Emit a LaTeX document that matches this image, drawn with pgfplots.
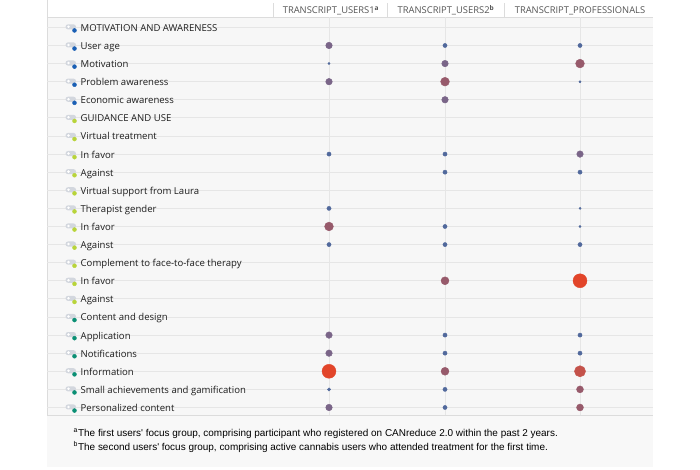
\documentclass[border=0pt]{standalone}
\usepackage{fontspec}
\setmainfont{Open Sans}
\newfontfamily\arialfont{Liberation Sans}
\usepackage{pgfplots}
\usepackage{pgfplotstable}
\pgfplotsset{compat=1.18}
\definecolor{panelbg}{HTML}{F7F7F7}
\definecolor{footbg}{HTML}{F8F8F8}
\definecolor{gridc}{HTML}{E6E6E6}
\definecolor{borderc}{HTML}{DCDCDC}
\definecolor{pillc}{HTML}{D3D7DE}
\definecolor{c1}{HTML}{51699C}
\definecolor{c2}{HTML}{7A6588}
\definecolor{c3}{HTML}{975A6B}
\definecolor{c4}{HTML}{C4524A}
\definecolor{c5}{HTML}{E2452A}
\definecolor{iblue}{HTML}{1A5FB4}
\definecolor{igreen}{HTML}{B8D43A}
\definecolor{iteal}{HTML}{0A8F74}
\definecolor{labc}{HTML}{1E1E1E}
\definecolor{headc}{HTML}{555555}

% column 1: TRANSCRIPT_USERS1 (x=329)
\pgfplotstableread{
x row cls
329 1 m
329 2 t
329 3 m
329 7 s
329 10 s
329 11 l
329 12 s
329 17 m
329 18 m
329 19 b
329 20 u
329 21 m
}\colA
% column 2: TRANSCRIPT_USERS2 (x=445)
\pgfplotstableread{
x row cls
445 1 s
445 2 m
445 3 l
445 4 m
445 7 s
445 8 s
445 11 s
445 12 s
445 14 k
445 17 s
445 18 s
445 19 k
445 20 s
445 21 s
}\colB
% column 3: TRANSCRIPT_PROFESSIONALS (x=580)
\pgfplotstableread{
x row cls
580 1 s
580 2 l
580 3 t
580 7 m
580 8 s
580 10 t
580 11 t
580 12 s
580 14 b
580 17 s
580 18 s
580 19 x
580 20 n
580 21 n
}\colC
% row icons (category colour)
\pgfplotstableread{
x row cls
74.5 0.17 B
74.5 1.17 B
74.5 2.17 B
74.5 3.17 B
74.5 4.17 B
74.5 5.17 G
74.5 6.17 G
74.5 7.17 G
74.5 8.17 G
74.5 9.17 G
74.5 10.17 G
74.5 11.17 G
74.5 12.17 G
74.5 13.17 G
74.5 14.17 G
74.5 15.17 G
74.5 16.17 T
74.5 17.17 T
74.5 18.17 T
74.5 19.17 T
74.5 20.17 T
74.5 21.17 T
}\icons

\newcommand{\lab}[2]{\node[font=\fontsize{9.6}{11}\selectfont, text=labc, anchor=base west, inner sep=0] at (axis cs:80.5,#1+0.22) {#2};}

\begin{document}
\begin{tikzpicture}
\begin{axis}[
  width=700bp, height=469bp, scale only axis,
  xmin=0, xmax=700, ymin=-1.4917, ymax=24.4199,
  y dir=reverse,
  axis lines=none, ticks=none,
  clip=false,
  scatter/classes={
    t={mark=*, mark size=1.1, draw=c1, fill=c1},
    u={mark=*, mark size=1.6, draw=c1, fill=c1},
    s={mark=*, mark size=2.1, draw=c1, fill=c1},
    m={mark=*, mark size=3.3, draw=c2, fill=c2},
    n={mark=*, mark size=3.5, draw=c3, fill=c3},
    k={mark=*, mark size=4.0, draw=c3, fill=c3},
    l={mark=*, mark size=4.4, draw=c3, fill=c3},
    x={mark=*, mark size=5.6, draw=c4, fill=c4},
    b={mark=*, mark size=7.0, draw=c5, fill=c5},
    B={mark=*, mark size=2.0, draw=iblue, fill=iblue},
    G={mark=*, mark size=2.0, draw=igreen, fill=igreen},
    T={mark=*, mark size=2.0, draw=iteal, fill=iteal}
  },
]
% backgrounds
\fill[white] (axis cs:0,-1.4917) rectangle (axis cs:700,24.4199);
\fill[panelbg] (axis cs:47,-0.5525) rectangle (axis cs:653,21.4365);
\fill[footbg] (axis cs:47,21.4365) rectangle (axis cs:653,24.3094);
\draw[borderc, line width=0.8bp] (axis cs:47,-0.5525) -- (axis cs:653,-0.5525);
\draw[borderc, line width=0.8bp] (axis cs:47,-1.49) -- (axis cs:47,21.4365) -- (axis cs:653,21.4365);
\pgfplotsinvokeforeach{273,387,504}{
  \draw[borderc, line width=0.8bp] (axis cs:#1,-1.326) -- (axis cs:#1,-0.5525);
}
% grid
\pgfplotsinvokeforeach{0,...,21}{
  \draw[gridc, line width=0.9bp] (axis cs:47,#1) -- (axis cs:653,#1);
}
\pgfplotsinvokeforeach{329,445,580}{
  \draw[gridc, line width=0.8bp] (axis cs:#1,-0.5525) -- (axis cs:#1,21.4365);
}
% icon pills
\pgfplotsinvokeforeach{0,...,21}{
  \fill[pillc, rounded corners=2.5bp] (axis cs:65.5,#1-0.17) rectangle (axis cs:76,#1+0.11);
  \fill[white] (axis cs:68.5,#1-0.03) circle[radius=1.4bp];
}
\addplot[scatter, only marks, scatter src=explicit symbolic] table[x=x, y=row, meta=cls] \icons;
% data
\addplot[scatter, only marks, scatter src=explicit symbolic] table[x=x, y=row, meta=cls] \colA;
\addplot[scatter, only marks, scatter src=explicit symbolic] table[x=x, y=row, meta=cls] \colB;
\addplot[scatter, only marks, scatter src=explicit symbolic] table[x=x, y=row, meta=cls] \colC;
% header
\node[font=\fontsize{9.4}{11}\selectfont, text=headc, anchor=base, inner sep=0] at (axis cs:331,-0.74) {TRANSCRIPT\_USERS1\textsuperscript{\textbf{a}}};
\node[font=\fontsize{9.4}{11}\selectfont, text=headc, anchor=base, inner sep=0] at (axis cs:446,-0.74) {TRANSCRIPT\_USERS2\textsuperscript{\textbf{b}}};
\node[font=\fontsize{9.4}{11}\selectfont, text=headc, anchor=base, inner sep=0] at (axis cs:580,-0.74) {TRANSCRIPT\_PROFESSIONALS};
% row labels
\lab{0}{MOTIVATION AND AWARENESS}
\lab{1}{User age}
\lab{2}{Motivation}
\lab{3}{Problem awareness}
\lab{4}{Economic awareness}
\lab{5}{GUIDANCE AND USE}
\lab{6}{Virtual treatment}
\lab{7}{In favor}
\lab{8}{Against}
\lab{9}{Virtual support from Laura}
\lab{10}{Therapist gender}
\lab{11}{In favor}
\lab{12}{Against}
\lab{13}{Complement to face-to-face therapy}
\lab{14}{In favor}
\lab{15}{Against}
\lab{16}{Content and design}
\lab{17}{Application}
\lab{18}{Notifications}
\lab{19}{Information}
\lab{20}{Small achievements and gamification}
\lab{21}{Personalized content}
% footnotes
\node[font=\arialfont\fontsize{10}{12}\selectfont, anchor=base west, inner sep=0] at (axis cs:73.5,22.597) {\textsuperscript{a}The first users' focus group, comprising participant who registered on CANreduce 2.0 within the past 2 years.};
\node[font=\arialfont\fontsize{10}{12}\selectfont, anchor=base west, inner sep=0] at (axis cs:73.5,23.370) {\textsuperscript{b}The second users' focus group, comprising active cannabis users who attended treatment for the first time.};
\end{axis}
\end{tikzpicture}
\end{document}
